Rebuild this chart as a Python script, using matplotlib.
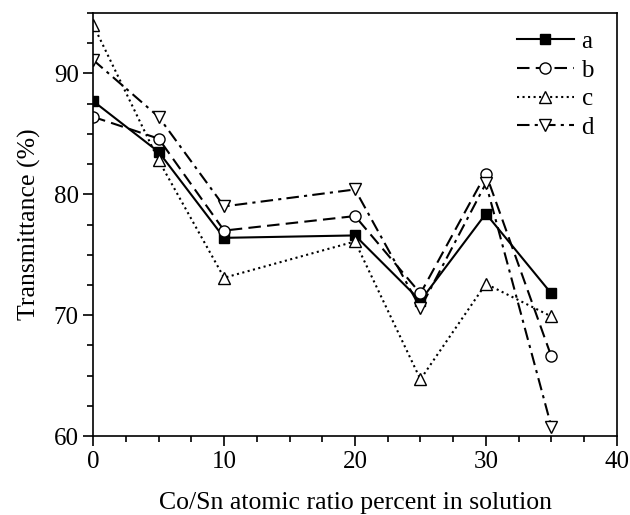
import numpy as np
import matplotlib
matplotlib.use('Agg')
import matplotlib.pyplot as plt
from matplotlib.ticker import MultipleLocator

plt.rcParams['font.family'] = ['Liberation Serif', 'DejaVu Serif']
plt.rcParams['mathtext.fontset'] = 'stix'

# Data
x = [0, 5, 10, 20, 25, 30, 35]
a = [87.7, 83.5, 76.4, 76.6, 71.2, 78.4, 71.8]
b = [86.4, 84.6, 77.0, 78.2, 71.8, 81.7, 66.6]
c = [94.0, 82.8, 73.1, 76.1, 64.7, 72.6, 69.9]
d = [91.1, 86.4, 79.0, 80.4, 70.6, 80.9, 60.8]

fig = plt.figure(figsize=(6.3, 5.15), dpi=100)
ax = fig.add_axes([0.148, 0.153, 0.831, 0.822])

ax.plot(x, a, '-', color='black', lw=1.5, marker='s', ms=7,
        mfc='black', mec='black', label='a')
ax.plot(x, b, '--', color='black', lw=1.5, marker='o', ms=8,
        mfc='white', mec='black', dashes=(6, 3), label='b')
ax.plot(x, c, ':', color='black', lw=1.5, marker='^', ms=9,
        mfc='white', mec='black', label='c')
ax.plot(x, d, '-.', color='black', lw=1.5, marker='v', ms=9,
        mfc='white', mec='black', dashes=(6, 2.5, 1.5, 2.5), label='d')

ax.set_xlim(0, 40)
ax.set_ylim(60, 95)
ax.xaxis.set_major_locator(MultipleLocator(10))
ax.xaxis.set_minor_locator(MultipleLocator(2.5))
ax.yaxis.set_major_locator(MultipleLocator(10))
ax.yaxis.set_minor_locator(MultipleLocator(2.5))
ax.tick_params(which='both', direction='out', top=False, right=False,
               width=1.2, labelsize=18)
ax.tick_params(which='major', length=7)
ax.tick_params(which='minor', length=4)
for s in ax.spines.values():
    s.set_linewidth(1.2)

ax.set_xlabel('Co/Sn atomic ratio percent in solution', fontsize=18.5, labelpad=14)
ax.set_ylabel('Transmittance (%)', fontsize=18.5, labelpad=9)

ax.legend(loc='upper right', frameon=False, fontsize=18, handlelength=2.3,
          handletextpad=0.3, labelspacing=0.25, borderaxespad=0.3,
          bbox_to_anchor=(0.99, 1.0))

fig.savefig('out.png', dpi=100)
